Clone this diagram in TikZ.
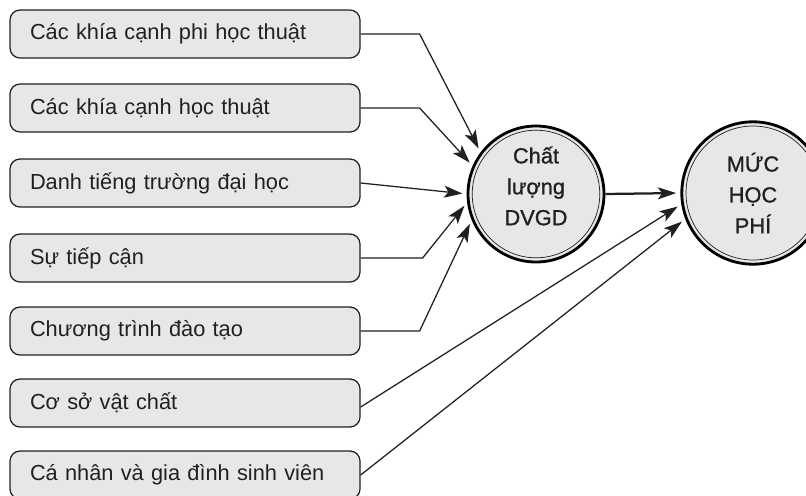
\documentclass[tikz,border=0pt]{standalone}
\usepackage{fontspec}
\setmainfont{Liberation Sans}
\newfontfamily\hubfont[FakeBold=1]{Liberation Sans}
\usetikzlibrary{arrows.meta}

\definecolor{boxgray}{RGB}{230,231,232}
\definecolor{inkgray}{RGB}{35,31,32}

\tikzset{
	factor/.style={draw=inkgray, line width=0.9pt, fill=boxgray,
		rounded corners=0.25cm, minimum width=8.75cm, minimum height=1.2cm,
		text width=7.75cm, inner xsep=0.5cm, align=left, text=inkgray,
		font=\fontsize{15.5}{18}\selectfont},
	hub/.style={circle, draw=black, line width=2pt, fill=boxgray,
		inner sep=0pt, align=center, text=inkgray,
		font=\hubfont\fontsize{15.5}{22}\selectfont},
	ring/.style={draw=inkgray, line width=0.5pt},
	link/.style={draw=inkgray, line width=0.9pt, shorten >=3pt,
		-{Stealth[length=13pt,width=8.5pt,inset=3pt]}},
}

\begin{document}
\begin{tikzpicture}
	\useasboundingbox (0,0) rectangle (20.15,-12.375);
	\clip (0,0) rectangle (20.15,-12.375);

	% factors on the left
	\foreach \i/\y/\t in {1/-0.85/Các khía cạnh phi học thuật,
			2/-2.7/Các khía cạnh học thuật,
			3/-4.575/Danh tiếng trường đại học,
			4/-6.45/Sự tiếp cận,
			5/-8.275/Chương trình đào tạo,
			6/-10.075/Cơ sở vật chất,
			7/-11.875/Cá nhân và gia đình sinh viên}
		\node[factor] (b\i) at (4.625,\y) {\t};

	% the two circles
	\node[hub, minimum size=3.4cm, label={[align=center, text=inkgray,
		font=\hubfont\fontsize{15.5}{22}\selectfont, yshift=0.2cm]center:Chất\\lượng\\DVGD}]
		(quality) at (13.4,-4.85) {};
	\node[hub, minimum size=3.56cm] (fee) at (18.825,-4.825)
		{MỨC\\HỌC\\PHÍ};
	\draw[ring] (quality.center) circle[radius=1.7cm-3pt];
	\draw[ring] (fee.center) circle[radius=1.78cm-3pt];

	% arrows into the quality circle
	\draw[link] (b1.east) -- ++(1.475,0) -- (quality.143);
	\draw[link] (b2.east) -- ++(1.475,0) -- (quality.156);
	\draw[link] (b3.east) -- (quality.180);
	\draw[link] (b4.east) -- ++(1.55,0) -- (quality.187);
	\draw[link] (b5.east) -- ++(1.475,0) -- (quality.202);

	% arrows into the fee circle
	\draw[link, line width=1.6pt] (quality.east) -- (fee.west);
	\draw[link] ([yshift=-0.1cm]b6.east) -- (fee.189);
	\draw[link] (b7.east) -- (fee.201);
\end{tikzpicture}
\end{document}
